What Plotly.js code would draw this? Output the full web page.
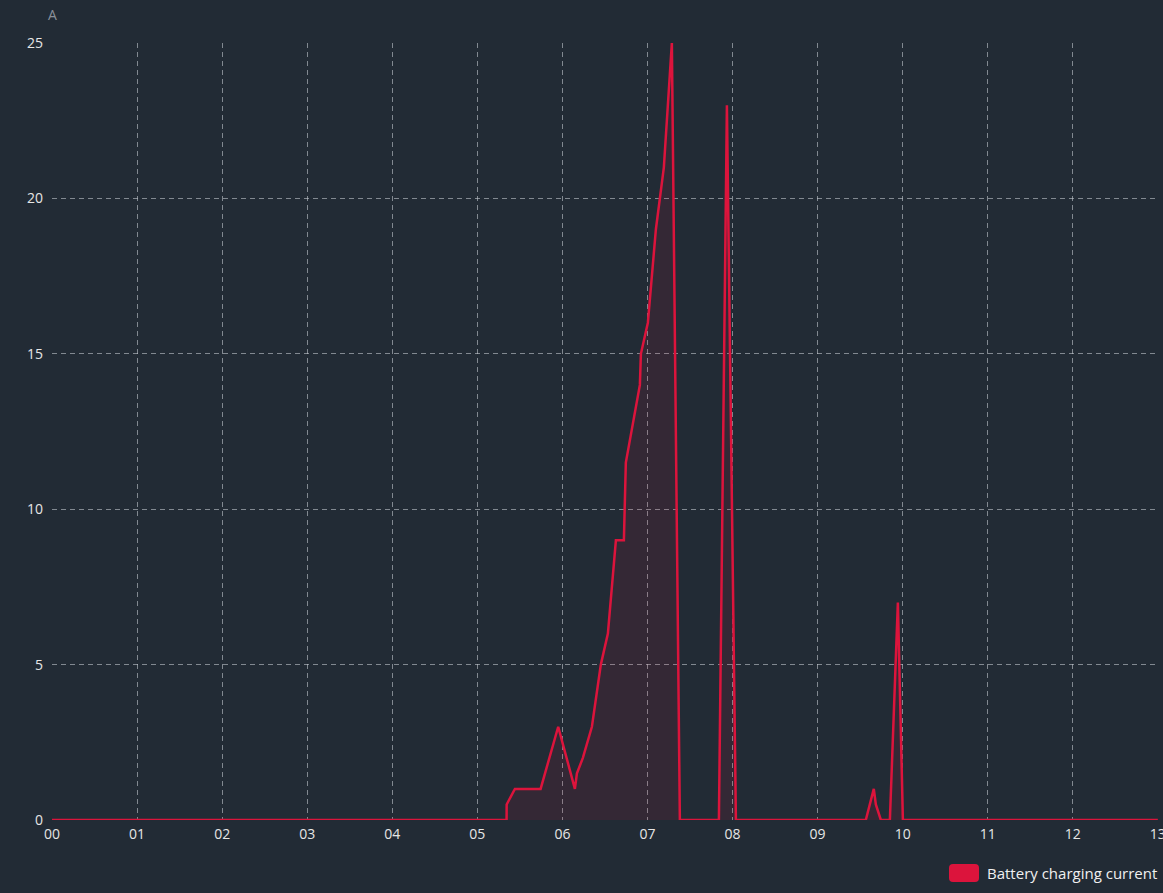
<!DOCTYPE html>
<html>
<head>
<meta charset="utf-8">
<script src="https://cdn.plot.ly/plotly-3.0.1.min.js"></script>
<style>
  html, body { margin: 0; padding: 0; background: #222b35; }
  #chart { width: 1163px; height: 893px; }
</style>
</head>
<body>
<div id="chart"></div>
<script>
// Time of day in decimal hours
const hours = [0, 5.344, 5.345, 5.442, 5.744, 5.951, 6.147, 6.171, 6.241, 6.347,
  6.452, 6.535, 6.629, 6.723, 6.746, 6.911, 6.923, 7.005, 7.099, 7.193,
  7.287, 7.381, 7.840, 7.934, 8.040, 9.567, 9.661, 9.685, 9.744, 9.850,
  9.944, 10.003, 13];
// Battery charging current, A
const current = [0, 0, 0.5, 1, 1, 3, 1, 1.5, 2, 3,
  5, 6, 9, 9, 11.5, 14, 15, 16, 19, 21,
  25, 0, 0, 23, 0, 0, 1, 0.5, 0, 0,
  7, 0, 0];

const hourTicks = [0, 1, 2, 3, 4, 5, 6, 7, 8, 9, 10, 11, 12, 13];
const hourLabels = ['00', '01', '02', '03', '04', '05', '06', '07', '08', '09', '10', '11', '12', '13'];
const currentTicks = [0, 5, 10, 15, 20, 25];
const seriesName = 'Battery charging current';

const lineColor = '#dc143c';
const gridColor = 'rgba(200,205,212,0.58)';
const font = 'Open Sans, Noto Sans, sans-serif';

const trace = {
  x: hours,
  y: current,
  type: 'scatter',
  mode: 'lines',
  name: seriesName,
  line: { color: lineColor, width: 2.5, shape: 'linear' },
  fill: 'tozeroy',
  fillcolor: 'rgba(220,20,60,0.10)',
  showlegend: false,
  hoverinfo: 'x+y'
};

// rounded legend swatch, in pixels relative to the bottom-right of the plot
function roundedRect(x0, y0, x1, y1, r) {
  return `M${x0 + r},${y0} L${x1 - r},${y0} Q${x1},${y0} ${x1},${y0 - r} ` +
         `L${x1},${y1 + r} Q${x1},${y1} ${x1 - r},${y1} ` +
         `L${x0 + r},${y1} Q${x0},${y1} ${x0},${y1 + r} ` +
         `L${x0},${y0 - r} Q${x0},${y0} ${x0 + r},${y0} Z`;
}

const layout = {
  width: 1163,
  height: 893,
  autosize: false,
  paper_bgcolor: '#222b35',
  plot_bgcolor: '#222b35',
  margin: { l: 52, r: 5, t: 43, b: 73, pad: 0 },
  font: { family: font, color: '#e6e6e6', size: 14 },
  showlegend: false,
  xaxis: {
    range: [0, 13.002],
    tickmode: 'array',
    tickvals: hourTicks,
    ticktext: hourLabels,
    showgrid: true,
    gridcolor: gridColor,
    griddash: '5px,4px',
    gridwidth: 1,
    zeroline: false,
    showline: false,
    ticks: '',
    ticklabelstandoff: 4,
    ticklabeloverflow: 'allow',
    tickfont: { family: font, size: 14, color: '#e6e6e6' },
    fixedrange: true
  },
  yaxis: {
    range: [0, 25],
    tickmode: 'array',
    tickvals: currentTicks,
    showgrid: true,
    gridcolor: gridColor,
    griddash: '5px,4px',
    gridwidth: 1,
    zeroline: false,
    showline: false,
    ticks: '',
    ticklabelstandoff: 8,
    tickfont: { family: font, size: 14, color: '#e6e6e6' },
    fixedrange: true
  },
  shapes: [{
    type: 'path',
    xref: 'paper', yref: 'paper',
    xsizemode: 'pixel', ysizemode: 'pixel',
    xanchor: 1, yanchor: 0,
    path: roundedRect(-209, -44, -179, -62, 4),
    fillcolor: lineColor,
    line: { width: 0 }
  }],
  annotations: [
    {
      text: 'A',
      xref: 'paper', yref: 'paper',
      x: 0, y: 1,
      xanchor: 'center', yanchor: 'bottom',
      yshift: 17,
      showarrow: false,
      font: { family: font, size: 14, color: '#8a9099' }
    },
    {
      text: seriesName,
      xref: 'paper', yref: 'paper',
      x: 1, y: 0,
      xanchor: 'right', yanchor: 'middle',
      xshift: 1, yshift: -53,
      showarrow: false,
      font: { family: font, size: 15, color: '#f0f0f0' }
    }
  ]
};

Plotly.newPlot('chart', [trace], layout, { displayModeBar: false, staticPlot: true });
</script>
</body>
</html>
